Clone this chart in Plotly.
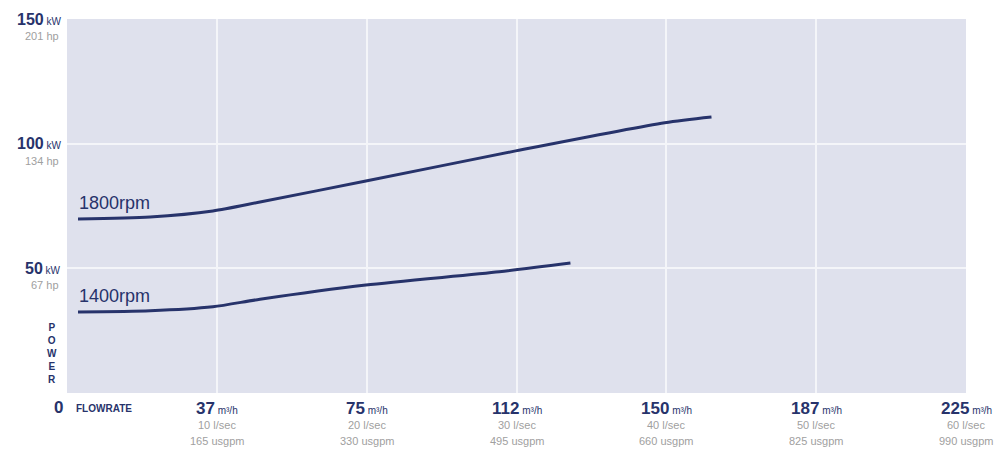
import plotly.graph_objects as go

# ---- data ----
flow_1800 = [2.75, 20.8, 36.5, 48.3, 74.8, 112.3, 149.6, 161.3]
power_1800 = [69.8, 70.6, 73.0, 76.6, 85.0, 97.1, 108.4, 110.7]
flow_1400 = [2.75, 20.8, 36.5, 48.3, 74.8, 108.2, 126.0]
power_1400 = [32.5, 33.0, 34.6, 37.6, 43.3, 48.6, 52.1]

x_ticks = [37.5, 75, 112.5, 150, 187.5, 225]
x_main = ["37", "75", "112", "150", "187", "225"]
x_lsec = ["10 l/sec", "20 l/sec", "30 l/sec", "40 l/sec", "50 l/sec", "60 l/sec"]
x_usgpm = ["165 usgpm", "330 usgpm", "495 usgpm", "660 usgpm", "825 usgpm", "990 usgpm"]

y_ticks = [50, 100, 150]
y_main = ["50", "100", "150"]
y_hp = ["67 hp", "134 hp", "201 hp"]

NAVY = "#27336b"
GRAY = "#a0a0a0"
FONT = "Liberation Sans Narrow, Arial Narrow, Liberation Sans, Arial, sans-serif"

fig = go.Figure()
fig.add_trace(go.Scatter(x=flow_1800, y=power_1800, mode="lines",
                         line=dict(color=NAVY, width=3, shape="spline", smoothing=0.7),
                         hoverinfo="skip", showlegend=False))
fig.add_trace(go.Scatter(x=flow_1400, y=power_1400, mode="lines",
                         line=dict(color=NAVY, width=3, shape="spline", smoothing=0.7),
                         hoverinfo="skip", showlegend=False))

ann = []
# series labels
ann.append(dict(x=flow_1800[0], y=power_1800[0], xref="x", yref="y", text="1800rpm",
                showarrow=False, xanchor="left", yanchor="bottom", yshift=4, xshift=-1,
                font=dict(family=FONT, size=18, color=NAVY)))
ann.append(dict(x=flow_1400[0], y=power_1400[0], xref="x", yref="y", text="1400rpm",
                showarrow=False, xanchor="left", yanchor="bottom", yshift=4, xshift=-1,
                font=dict(family=FONT, size=18, color=NAVY)))

# x tick labels
for xv, m, l, u in zip(x_ticks, x_main, x_lsec, x_usgpm):
    ann.append(dict(x=xv, y=0, xref="x", yref="paper", yanchor="middle", yshift=-15,
                    showarrow=False,
                    text=f"<b>{m}</b><span style='font-size:10px'> m³/h</span>",
                    font=dict(family=FONT, size=17, color=NAVY)))
    ann.append(dict(x=xv, y=0, xref="x", yref="paper", yanchor="middle", yshift=-32,
                    showarrow=False, text=l, font=dict(family=FONT, size=11, color=GRAY)))
    ann.append(dict(x=xv, y=0, xref="x", yref="paper", yanchor="middle", yshift=-48,
                    showarrow=False, text=u, font=dict(family=FONT, size=11, color=GRAY)))

# y tick labels
for yv, m, h in zip(y_ticks, y_main, y_hp):
    ann.append(dict(x=0, y=yv, xref="paper", yref="y", xanchor="right", yanchor="middle",
                    xshift=-4, showarrow=False,
                    text=f"<b>{m}</b><span style='font-size:10px'> kW</span>",
                    font=dict(family=FONT, size=16, color=NAVY)))
    ann.append(dict(x=0, y=yv, xref="paper", yref="y", xanchor="right", yanchor="middle",
                    xshift=-6, yshift=-17, showarrow=False, text=h,
                    font=dict(family=FONT, size=11, color=GRAY)))

# zero / FLOWRATE / POWER
ann.append(dict(x=0, y=0, xref="x", yref="y", xanchor="center", yanchor="middle",
                xshift=-9, yshift=-14, showarrow=False, text="<b>0</b>",
                font=dict(family=FONT, size=17, color=NAVY)))
ann.append(dict(x=0, y=0, xref="x", yref="y", xanchor="left", yanchor="middle",
                xshift=7, yshift=-15, showarrow=False, text="<b>FLOWRATE</b>",
                font=dict(family=FONT, size=10, color=NAVY)))
ann.append(dict(x=0, y=16, xref="paper", yref="y", xanchor="center", yanchor="middle",
                xshift=-15, showarrow=False, text="<b>P<br>O<br>W<br>E<br>R</b>",
                font=dict(family=FONT, size=10, color=NAVY)))

fig.update_layout(
    width=994, height=444,
    margin=dict(l=59, r=36, t=11, b=59),
    paper_bgcolor="white", plot_bgcolor="#dfe1ed",
    annotations=ann,
    xaxis=dict(range=[0, 225], tickvals=x_ticks, showticklabels=False, showgrid=True,
               gridcolor="#f4f5f9", gridwidth=2, zeroline=False, showline=False, fixedrange=True),
    yaxis=dict(range=[0, 150], tickvals=y_ticks, showticklabels=False, showgrid=True,
               gridcolor="#f4f5f9", gridwidth=2, zeroline=False, showline=False, fixedrange=True),
)

fig.write_html("out.html")
